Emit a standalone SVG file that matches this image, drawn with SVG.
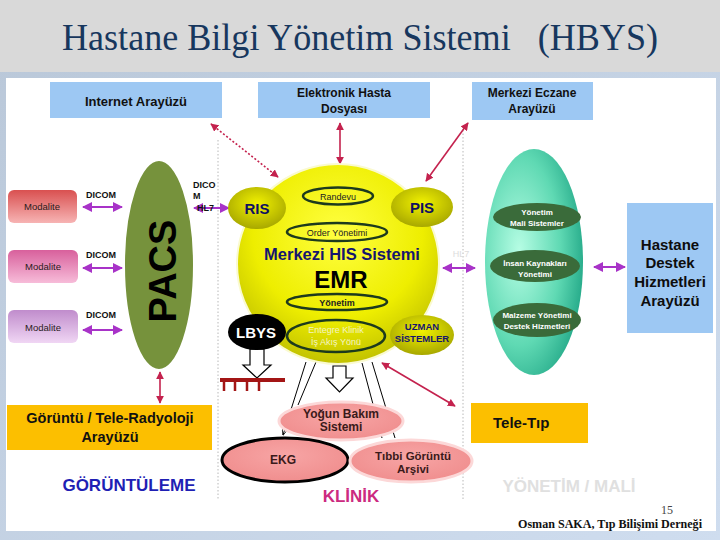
<svg xmlns="http://www.w3.org/2000/svg" width="720" height="540" viewBox="0 0 720 540">
<defs>
<linearGradient id="bg" x1="0" y1="0" x2="1" y2="1"><stop offset="0" stop-color="#b9c7d8"/><stop offset="1" stop-color="#cfddef"/></linearGradient>
<linearGradient id="m1" x1="0" y1="0" x2="0" y2="1"><stop offset="0" stop-color="#d95050"/><stop offset="1" stop-color="#f7b4b4"/></linearGradient>
<linearGradient id="m2" x1="0" y1="0" x2="0" y2="1"><stop offset="0" stop-color="#d8609c"/><stop offset="1" stop-color="#f7bcd9"/></linearGradient>
<linearGradient id="m3" x1="0" y1="0" x2="0" y2="1"><stop offset="0" stop-color="#c08ccc"/><stop offset="1" stop-color="#f0d6f4"/></linearGradient>
<radialGradient id="yc" cx="0.5" cy="0.35" r="0.7"><stop offset="0" stop-color="#ffff40"/><stop offset="0.6" stop-color="#eeee00"/><stop offset="1" stop-color="#b8b800"/></radialGradient>
<radialGradient id="ys" cx="0.5" cy="0.4" r="0.6"><stop offset="0" stop-color="#f2f200"/><stop offset="1" stop-color="#a8a800"/></radialGradient>
<radialGradient id="gr" cx="0.35" cy="0.45" r="0.7"><stop offset="0" stop-color="#b6fde4"/><stop offset="0.6" stop-color="#5fd9b3"/><stop offset="1" stop-color="#1fa585"/></radialGradient>
<radialGradient id="pk" cx="0.5" cy="0.4" r="0.6"><stop offset="0" stop-color="#f7a5a5"/><stop offset="1" stop-color="#f08e8e"/></radialGradient>
<marker id="pa" viewBox="0 0 10 10" refX="9" refY="5" markerWidth="5" markerHeight="5" orient="auto-start-reverse"><path d="M0,0 L10,5 L0,10 z" fill="#a833c8"/></marker>
<marker id="ra" viewBox="0 0 10 10" refX="9" refY="5" markerWidth="5" markerHeight="5" orient="auto-start-reverse"><path d="M0,0 L10,5 L0,10 z" fill="#c4224e"/></marker>
<marker id="ka" viewBox="0 0 10 10" refX="9" refY="5" markerWidth="6" markerHeight="6" orient="auto"><path d="M0,1 L10,5 L0,9" fill="none" stroke="#000" stroke-width="1.2"/></marker>
</defs>
<style>
.t{font-family:"Liberation Sans",Arial,sans-serif;font-weight:bold;text-anchor:middle}
.n{font-family:"Liberation Sans",Arial,sans-serif;text-anchor:middle}
.box{fill:#9dc8f3}
.org{fill:#fcbf00}
.pur{stroke:#a833c8;stroke-width:2;fill:none;marker-start:url(#pa);marker-end:url(#pa)}
.red{stroke:#c4224e;stroke-width:1.6;fill:none;marker-start:url(#ra);marker-end:url(#ra)}
.dot{stroke:#b8b8b8;stroke-width:1;stroke-dasharray:1.5 2;fill:none}
.io{fill:#3a6b3a}
.wt{fill:#ffffff;font-size:8px}
.mod{font-size:9.5px;fill:#2a1a1a}
.dc{font-size:9px;fill:#111}
.ol{fill:none;stroke:#1d3a1d;stroke-width:2.5}
.hol{fill:#ffffff;stroke:#000;stroke-width:1.2}
</style>
<rect x="0" y="0" width="720" height="540" fill="url(#bg)"/>
<rect x="0" y="0" width="720" height="72" fill="#d9d9d9"/>
<rect x="6" y="78" width="710" height="453" fill="#ffffff"/>
<text x="360" y="50" font-family="'Liberation Serif','Times New Roman',serif" font-size="37" fill="#17375e" text-anchor="middle" style="white-space:pre" textLength="596" lengthAdjust="spacingAndGlyphs">Hastane Bilgi Yönetim Sistemi   (HBYS)</text>

<path class="dot" d="M218,140 V500 M463,130 V500"/>

<g id="connectors">
<path class="pur" d="M83,207 H122"/>
<path class="pur" d="M83,268 H122"/>
<path class="pur" d="M83,330 H122"/>
<path class="pur" d="M194,208 H229"/>
<path class="pur" d="M443,268 H475"/>
<path class="pur" d="M594,267 H625"/>
<path class="red" d="M160,372 V403"/>
<path class="red" d="M340,123 V164"/>
<path class="red" d="M426,181 L468,123"/>
<path class="red" d="M382,363 L455,406"/>
<path class="red" d="M278,177 L211,124" stroke-dasharray="2 2"/>
<path class="hol" d="M250,349 V365 H243 L257,378 L271,365 H264 V349 Z"/>
<path class="hol" d="M333,366 V378 H326 L339.5,392 L353,378 H346 V366 Z"/>
<rect x="220" y="378" width="65" height="4" fill="#a31515"/>
<path d="M224,382 V391 M235,382 V391 M247,382 V391 M259,382 V391" stroke="#a31515" stroke-width="2.5"/>
<path d="M306,362 L283,435" stroke="#000" stroke-width="1" fill="none" marker-end="url(#ka)"/>
<path d="M316,362 L298,405" stroke="#000" stroke-width="1" fill="none"/>
<path d="M362,363 L382,438 M372,362 L395,438" stroke="#000" stroke-width="1" fill="none"/>
</g>

<g id="internet"><rect class="box" x="50" y="82" width="172" height="36"/><text class="t" x="136" y="106" font-size="13" fill="#111">Internet Arayüzü</text></g>
<g id="ehd"><rect class="box" x="258" y="82" width="172" height="36"/><text class="t" x="344" y="97" font-size="12" fill="#111">Elektronik Hasta</text><text class="t" x="344" y="113" font-size="12" fill="#111">Dosyası</text></g>
<g id="eczane"><rect class="box" x="472" y="82" width="121" height="38"/><text class="t" x="532" y="97" font-size="12" fill="#111">Merkezi Eczane</text><text class="t" x="532" y="113" font-size="12" fill="#111">Arayüzü</text></g>
<g id="destek"><rect class="box" x="627" y="203" width="86" height="130"/><text class="t" x="670" y="250" font-size="15" fill="#0d0d0d">Hastane</text><text class="t" x="670" y="268" font-size="15" fill="#0d0d0d">Destek</text><text class="t" x="670" y="287" font-size="15" fill="#0d0d0d">Hizmetleri</text><text class="t" x="670" y="306" font-size="15" fill="#0d0d0d">Arayüzü</text></g>
<g id="teleradyoloji"><rect class="org" x="7" y="405" width="205" height="45"/><text class="t" x="110" y="423" font-size="14.5" fill="#111">Görüntü / Tele-Radyoloji</text><text class="t" x="110" y="442" font-size="14.5" fill="#111">Arayüzü</text></g>
<g id="teletip"><rect class="org" x="471" y="403" width="117" height="40"/><text class="t" x="493" y="428" font-size="15" fill="#111" style="text-anchor:start">Tele-Tıp</text></g>

<g id="modalite1"><rect x="8" y="190" width="69" height="33" rx="6" fill="url(#m1)"/><text class="n mod" x="42" y="210">Modalite</text></g>
<g id="modalite2"><rect x="8" y="250" width="70" height="33" rx="6" fill="url(#m2)"/><text class="n mod" x="43" y="270">Modalite</text></g>
<g id="modalite3"><rect x="8" y="310" width="70" height="33" rx="6" fill="url(#m3)"/><text class="n mod" x="43" y="331">Modalite</text></g>

<g id="pacs"><ellipse cx="159" cy="265" rx="35" ry="105" fill="#76923c" stroke="#ffffff" stroke-width="2"/><text class="t" transform="translate(176,271) rotate(-90)" font-size="38" fill="#000">PACS</text></g>

<g id="his">
<ellipse cx="338" cy="264" rx="101" ry="100" fill="url(#yc)" stroke="#fafad0" stroke-width="2"/>
<ellipse class="ol" cx="338" cy="196" rx="35" ry="8.5"/><text class="n" x="338" y="199.5" font-size="9" fill="#222">Randevu</text>
<ellipse class="ol" cx="337" cy="232" rx="50" ry="9"/><text class="n" x="337" y="235.5" font-size="9" fill="#222">Order Yönetimi</text>
<text class="t" x="342" y="260" font-size="16.5" fill="#15156e">Merkezi HIS Sistemi</text>
<text class="t" x="341" y="288" font-size="24" fill="#000">EMR</text>
<ellipse class="ol" cx="337" cy="302" rx="50" ry="8"/><text class="t" x="337" y="305.5" font-size="9" fill="#222">Yönetim</text>
<ellipse class="ol" cx="336" cy="336" rx="49" ry="16"/><text class="n" x="336" y="333" font-size="9" fill="#f4f4c4">Entegre Klinik</text><text class="n" x="336" y="345" font-size="9" fill="#f4f4c4">İş Akış Yönü</text>
</g>
<g id="ris"><ellipse cx="257" cy="208" rx="29" ry="21" fill="url(#ys)"/><text class="t" x="257" y="214" font-size="15" fill="#101060">RIS</text></g>
<g id="pis"><ellipse cx="422" cy="207" rx="31" ry="20" fill="url(#ys)"/><text class="t" x="422" y="213" font-size="15" fill="#101060">PIS</text></g>
<g id="lbys"><ellipse cx="257" cy="332" rx="29" ry="18" fill="#000"/><text class="t" x="256" y="338" font-size="15" fill="#fff">LBYS</text></g>
<g id="uzman"><ellipse cx="422" cy="335" rx="32" ry="20" fill="url(#ys)"/><text class="t" x="422" y="330" font-size="9.5" fill="#15156e">UZMAN</text><text class="t" x="422" y="342" font-size="9.5" fill="#15156e">SİSTEMLER</text></g>

<g id="yonetim">
<ellipse cx="534" cy="262" rx="49" ry="113" fill="url(#gr)"/>
<ellipse class="io" cx="537" cy="217" rx="44" ry="14"/><text class="t wt" x="537" y="215">Yönetim</text><text class="t wt" x="537" y="226">Mali Sistemler</text>
<ellipse class="io" cx="535" cy="266" rx="45" ry="16"/><text class="t wt" x="535" y="266">İnsan Kaynakları</text><text class="t wt" x="535" y="277">Yönetimi</text>
<ellipse class="io" cx="537" cy="320" rx="44" ry="17"/><text class="t wt" x="537" y="318">Malzeme Yönetimi</text><text class="t wt" x="537" y="329">Destek Hizmetleri</text>
</g>

<g id="yogun"><ellipse cx="341" cy="421" rx="62" ry="19" fill="url(#pk)" stroke="#fcd8d8" stroke-width="3"/><text class="t" x="341" y="418" font-size="12" fill="#3a1a1a">Yoğun Bakım</text><text class="t" x="341" y="431" font-size="12" fill="#3a1a1a">Sistemi</text></g>
<g id="ekg"><ellipse cx="285" cy="460" rx="63" ry="22" fill="url(#pk)" stroke="#000" stroke-width="3"/><text class="t" x="283" y="464" font-size="12" fill="#3a1a1a">EKG</text></g>
<g id="arsiv"><ellipse cx="411" cy="461" rx="61" ry="21" fill="url(#pk)" stroke="#fcd8d8" stroke-width="3"/><text class="t" x="413" y="460" font-size="11.5" fill="#3a1a1a">Tıbbi Görüntü</text><text class="t" x="413" y="473" font-size="11.5" fill="#3a1a1a">Arşivi</text></g>

<g id="labels">
<text class="t" x="129" y="491" font-size="17" fill="#1f1fb4">GÖRÜNTÜLEME</text>
<text class="t" x="351" y="502" font-size="17" fill="#cc2a7f">KLİNİK</text>
<text class="t" x="569" y="492" font-size="17" fill="#e0e0e0">YÖNETİM / MALİ</text>
<text class="t dc" x="86" y="198" style="text-anchor:start">DICOM</text>
<text class="t dc" x="86" y="258" style="text-anchor:start">DICOM</text>
<text class="t dc" x="86" y="318" style="text-anchor:start">DICOM</text>
<text class="t dc" x="193" y="188" style="text-anchor:start">DICO</text>
<text class="t dc" x="193" y="199" style="text-anchor:start">M</text>
<text class="t dc" x="197" y="211" style="text-anchor:start">HL7</text>
<text class="n" x="461" y="257" font-size="9" fill="#dcdcdc">HL7</text>
<text x="667" y="514" font-family="'Liberation Serif','Times New Roman',serif" font-size="12" fill="#444" text-anchor="middle">15</text>
<text x="518" y="528" font-family="'Liberation Serif','Times New Roman',serif" font-weight="bold" font-size="11.5" fill="#111" textLength="184" lengthAdjust="spacingAndGlyphs">Osman SAKA, Tıp Bilişimi Derneği</text>
</g>
</svg>
